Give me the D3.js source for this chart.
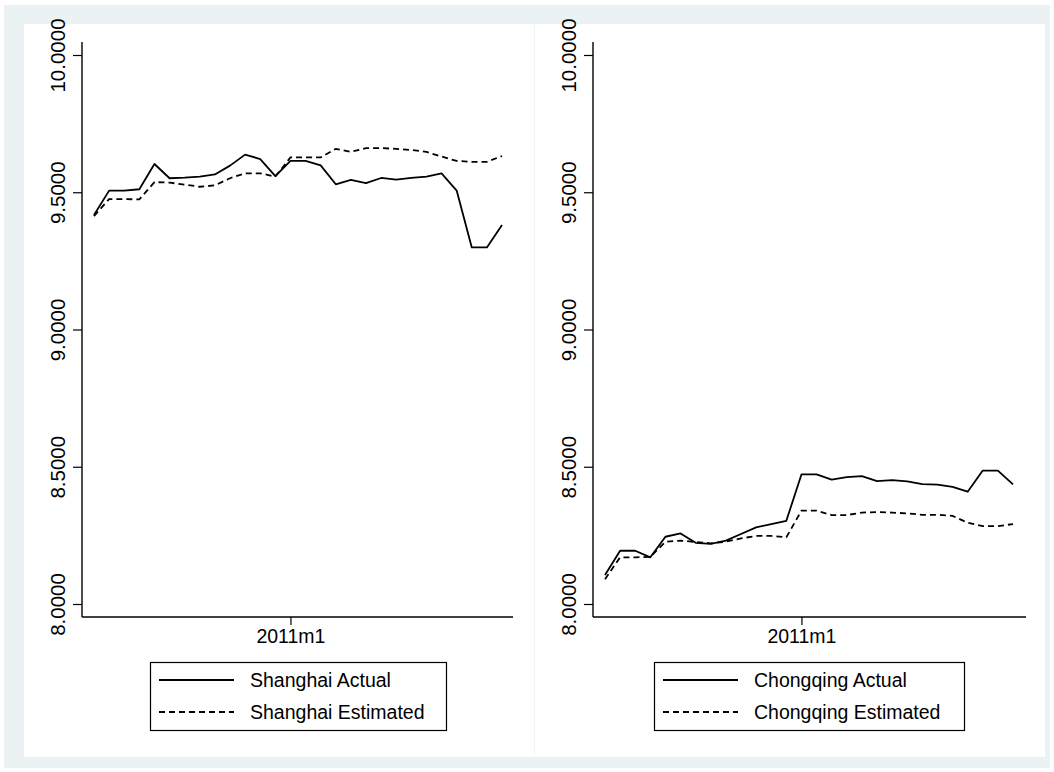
<!DOCTYPE html>
<html><head><meta charset="utf-8">
<script src="https://cdn.jsdelivr.net/npm/d3@7"></script>
<style>html,body{margin:0;padding:0;background:#fff;}svg{display:block;font-family:"Liberation Sans",Arial,sans-serif;}</style>
</head><body>
<script>
// months 2009m12 .. 2012m3
const months = [];
for (let i = 0; i < 28; i++) { const t = 2009*12 + 11 + i; months.push(Math.floor(t/12) + "m" + (t%12 + 1)); }
const xTickLabels = ["2011m1"];
const yTicks = [8.0, 8.5, 9.0, 9.5, 10.0];

const shanghaiActual = [9.417,9.506,9.506,9.511,9.603,9.551,9.553,9.557,9.565,9.597,9.637,9.621,9.559,9.614,9.614,9.598,9.529,9.545,9.533,9.552,9.546,9.552,9.557,9.569,9.506,9.299,9.299,9.381];
const shanghaiEstimated = [9.413,9.475,9.475,9.474,9.537,9.535,9.528,9.520,9.525,9.551,9.569,9.569,9.557,9.627,9.627,9.627,9.658,9.647,9.661,9.661,9.658,9.654,9.647,9.630,9.614,9.611,9.611,9.632];
const chongqingActual = [8.106,8.194,8.194,8.170,8.245,8.257,8.223,8.219,8.231,8.255,8.279,8.291,8.303,8.472,8.472,8.453,8.462,8.466,8.448,8.451,8.447,8.437,8.435,8.427,8.409,8.486,8.486,8.436];
const chongqingEstimated = [8.090,8.170,8.170,8.172,8.227,8.231,8.226,8.221,8.227,8.239,8.248,8.248,8.243,8.340,8.340,8.324,8.324,8.333,8.335,8.333,8.330,8.325,8.325,8.321,8.296,8.284,8.284,8.291];

const panels = [
  {x0: 24, axisX: 82, xStart: 94, xEnd: 502, axisEnd: 513, actual: shanghaiActual, est: shanghaiEstimated,
   labels: ["Shanghai Actual", "Shanghai Estimated"], legend: [150, 446]},
  {x0: 535, axisX: 593, xStart: 605, xEnd: 1013, axisEnd: 1026, actual: chongqingActual, est: chongqingEstimated,
   labels: ["Chongqing Actual", "Chongqing Estimated"], legend: [654, 964]}
];

const W = 1054, H = 772;
const svg = d3.select("body").append("svg").attr("width", W).attr("height", H);
svg.append("rect").attr("x", 4).attr("y", 5).attr("width", 1046).attr("height", 763).attr("fill", "#eaf2f3");
svg.append("rect").attr("x", 24).attr("y", 24).attr("width", 510).attr("height", 733).attr("fill", "#fff");
svg.append("rect").attr("x", 535).attr("y", 24).attr("width", 510).attr("height", 733).attr("fill", "#fff");
svg.append("line").attr("x1", 534.5).attr("x2", 534.5).attr("y1", 24).attr("y2", 757).attr("stroke", "#f1f6f7");

const y = d3.scaleLinear().domain([8, 10]).range([604, 55]);
const axisBottomY = 617;

panels.forEach(p => {
  const g = svg.append("g");
  const x = d3.scalePoint().domain(months).range([p.xStart, p.xEnd]);

  // y axis
  const ya = g.append("g").attr("transform", `translate(${p.axisX},0)`)
    .call(d3.axisLeft(y).tickValues(yTicks).tickSize(9).tickPadding(0).tickFormat(d3.format(".4f")));
  ya.select(".domain").remove();
  ya.selectAll(".tick line").attr("stroke", "#000").attr("stroke-width", 1.2);
  ya.selectAll(".tick text").attr("font-size", 20.5).attr("fill", "#000")
    .attr("font-family", "Liberation Sans, Arial, sans-serif")
    .attr("text-anchor", "middle").attr("dy", 0)
    .attr("transform", "translate(-17,0) rotate(-90)").attr("x", 0).attr("y", 0);
  g.append("line").attr("x1", p.axisX).attr("x2", p.axisX).attr("y1", y(10) - 13).attr("y2", axisBottomY)
    .attr("stroke", "#000").attr("stroke-width", 1.4);

  // x axis
  const xa = g.append("g").attr("transform", `translate(0,${axisBottomY})`)
    .call(d3.axisBottom(x).tickValues(xTickLabels).tickSize(8).tickPadding(4));
  xa.select(".domain").remove();
  xa.selectAll(".tick line").attr("stroke", "#000").attr("stroke-width", 1.2);
  xa.selectAll(".tick text").attr("font-size", 19.5).attr("fill", "#000")
    .attr("font-family", "Liberation Sans, Arial, sans-serif");
  g.append("line").attr("x1", p.axisX).attr("x2", p.axisEnd).attr("y1", axisBottomY).attr("y2", axisBottomY)
    .attr("stroke", "#000").attr("stroke-width", 1.4);

  const line = d3.line().x((d, i) => x(months[i])).y(d => y(d));
  g.append("path").datum(p.actual).attr("d", line).attr("fill", "none").attr("stroke", "#000")
    .attr("stroke-width", 1.8).attr("stroke-linejoin", "round");
  g.append("path").datum(p.est).attr("d", line).attr("fill", "none").attr("stroke", "#000")
    .attr("stroke-width", 1.8).attr("stroke-dasharray", "6,4");

  // legend
  const [lx0, lx1] = p.legend;
  const lg = g.append("g");
  lg.append("rect").attr("x", lx0 + 0.5).attr("y", 662.5).attr("width", lx1 - lx0).attr("height", 68)
    .attr("fill", "#fff").attr("stroke", "#000").attr("stroke-width", 1.2);
  [0, 1].forEach(k => {
    const yy = 680 + k * 32;
    lg.append("line").attr("x1", lx0 + 9).attr("x2", lx0 + 84).attr("y1", yy).attr("y2", yy)
      .attr("stroke", "#000").attr("stroke-width", 1.8).attr("stroke-dasharray", k ? "6,4" : null);
    lg.append("text").attr("x", lx0 + 100).attr("y", yy).attr("dy", "0.35em")
      .attr("font-size", 19.5).text(p.labels[k]);
  });
});
</script>
</body></html>
